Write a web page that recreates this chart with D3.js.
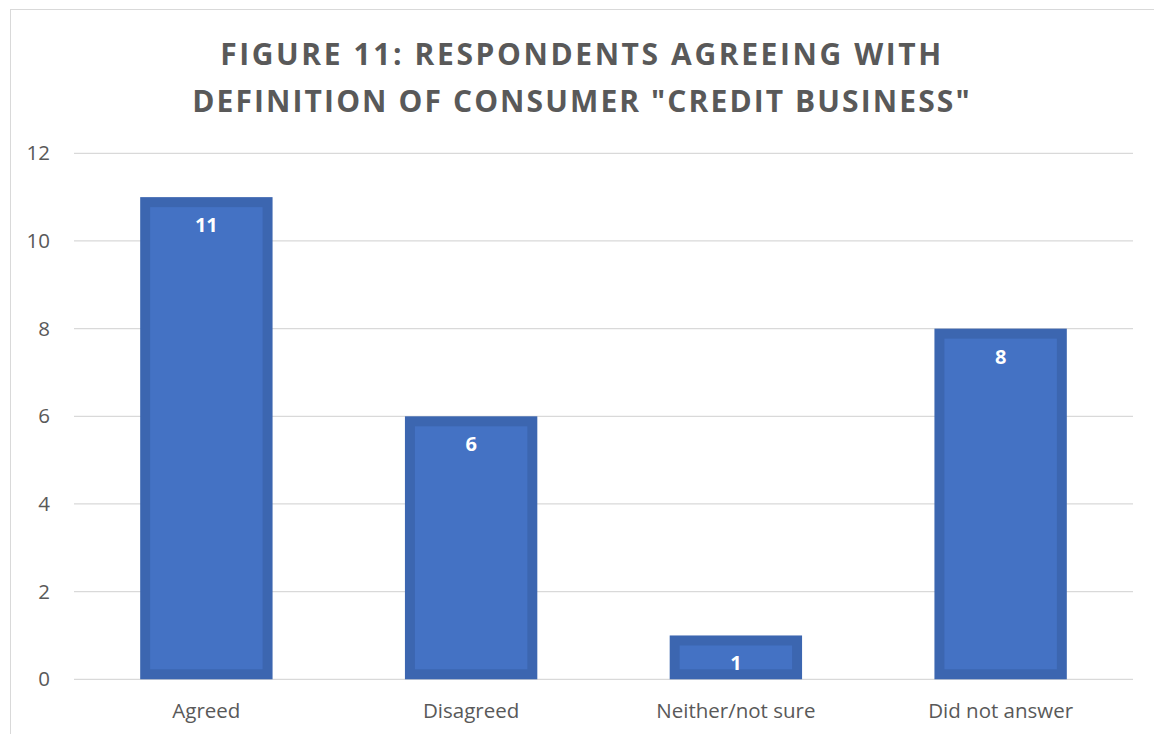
<!DOCTYPE html>
<html>
<head>
<meta charset="utf-8">
<script src="https://cdn.jsdelivr.net/npm/d3@7"></script>
<style>
  html, body { margin: 0; padding: 0; background: #fff; }
  svg { display: block; font-family: "Open Sans", "DejaVu Sans", sans-serif; }
</style>
</head>
<body>
<svg id="chart" width="1154" height="734"></svg>
<script>
// Survey responses
const categories = ["Agreed", "Disagreed", "Neither/not sure", "Did not answer"];
const counts = [11, 6, 1, 8];
const yTicks = [0, 2, 4, 6, 8, 10, 12];
const titleLines = ["FIGURE 11: RESPONDENTS AGREEING WITH", "DEFINITION OF CONSUMER \"CREDIT BUSINESS\""];

const svg = d3.select("#chart");
const W = 1154, H = 734;
const margin = { left: 74, right: 21, top: 153.3, bottom: 54.7 };

// chart frame
svg.append("rect")
  .attr("x", 10.5).attr("y", 9.5)
  .attr("width", W + 10).attr("height", H + 10)
  .attr("fill", "none").attr("stroke", "#d9d9d9").attr("stroke-width", 1);

const x = d3.scaleBand()
  .domain(categories)
  .range([margin.left, W - margin.right])
  .paddingInner(0.5).paddingOuter(0.25);

const y = d3.scaleLinear()
  .domain([0, 12])
  .range([H - margin.bottom, margin.top]);

// title
svg.append("g").selectAll("text")
  .data(titleLines)
  .join("text")
  .attr("x", 582)
  .attr("y", (d, i) => 64.5 + i * 47)
  .attr("text-anchor", "middle")
  .attr("font-size", 30)
  .attr("font-weight", "bold")
  .attr("letter-spacing", (d, i) => i === 0 ? 2.6 : 2.1)
  .attr("fill", "#595959")
  .text(d => d);

// gridlines
svg.append("g").selectAll("line")
  .data(yTicks)
  .join("line")
  .attr("x1", margin.left).attr("x2", W - margin.right)
  .attr("y1", d => y(d)).attr("y2", d => y(d))
  .attr("stroke", "#d9d9d9").attr("stroke-width", 1.3);

// y axis labels
const yAxis = d3.axisLeft(y).tickValues(yTicks).tickSize(0).tickPadding(24);
svg.append("g")
  .attr("transform", `translate(${margin.left},0)`)
  .call(yAxis)
  .call(g => g.select(".domain").remove())
  .call(g => g.selectAll("text")
    .attr("font-size", 20.5).attr("fill", "#595959")
    .attr("font-family", "'Open Sans', sans-serif"));

// x axis labels
const xAxis = d3.axisBottom(x).tickSize(0).tickPadding(24);
svg.append("g")
  .attr("transform", `translate(0,${y(0)})`)
  .call(xAxis)
  .call(g => g.select(".domain").remove())
  .call(g => g.selectAll("text")
    .attr("font-size", 20.5).attr("fill", "#595959")
    .attr("font-family", "'Open Sans', sans-serif"));

// bars: darker outer band with lighter inset fill
const bars = svg.append("g").selectAll("g")
  .data(categories.map((c, i) => ({ c, v: counts[i] })))
  .join("g");

const inset = 10;
bars.append("rect")
  .attr("x", d => x(d.c))
  .attr("y", d => y(d.v))
  .attr("width", x.bandwidth())
  .attr("height", d => y(0) - y(d.v))
  .attr("fill", "#3c66b0");

bars.append("rect")
  .attr("x", d => x(d.c) + inset)
  .attr("y", d => y(d.v) + inset)
  .attr("width", x.bandwidth() - 2 * inset)
  .attr("height", d => Math.max(0, y(0) - y(d.v) - 2 * inset))
  .attr("fill", "#4472c4");

// value labels
bars.append("text")
  .attr("x", d => x(d.c) + x.bandwidth() / 2)
  .attr("y", d => y(d.v) + 35)
  .attr("text-anchor", "middle")
  .attr("font-size", 20)
  .attr("font-weight", "bold")
  .attr("fill", "#ffffff")
  .text(d => d.v);
</script>
</body>
</html>
